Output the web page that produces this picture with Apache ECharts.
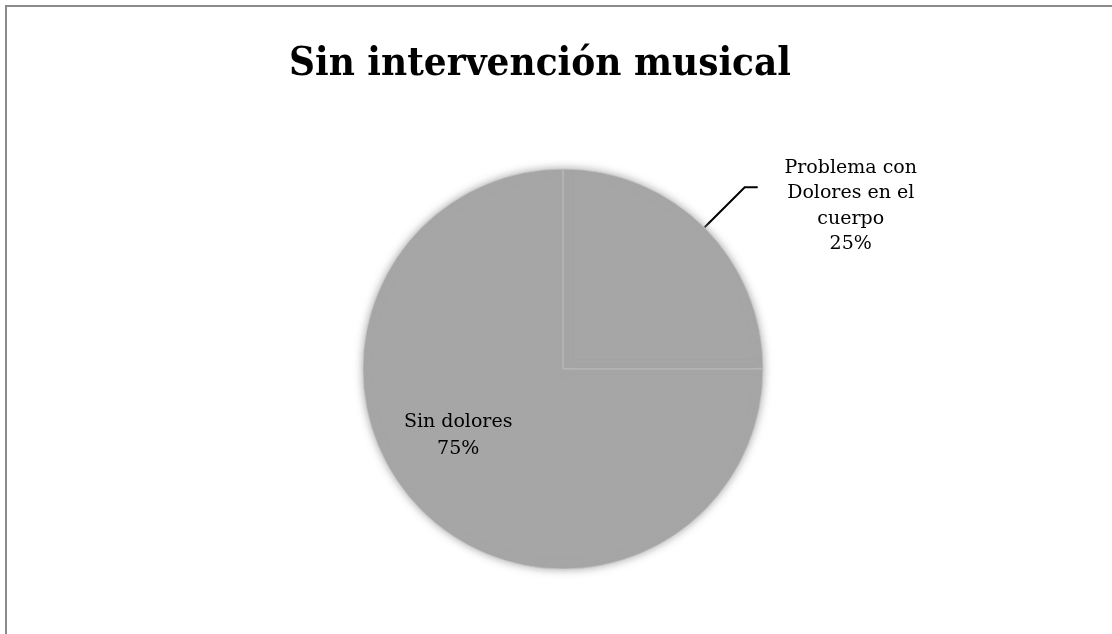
<!DOCTYPE html>
<html>
<head>
<meta charset="utf-8">
<script src="https://cdn.jsdelivr.net/npm/echarts@6/dist/echarts.min.js"></script>
<style>
  html, body { margin: 0; padding: 0; background: #ffffff; }
  #frame { position: absolute; left: 5px; top: 5px; width: 1200px; height: 700px;
           border-left: 2px solid #8a8a8a; border-top: 2px solid #8a8a8a; }
  #chart { position: absolute; left: 0; top: 0; width: 1112px; height: 634px; }
</style>
</head>
<body>
<div id="frame"></div>
<div id="chart"></div>
<script>
const titleText = 'Sin intervención musical';
const categories = ['Problema con\nDolores en el\ncuerpo', 'Sin dolores'];
const values = [25, 75];
const sliceColors = ['#a6a6a6', '#a6a6a6'];

const chart = echarts.init(document.getElementById('chart'), null, { renderer: 'canvas' });

const data = categories.map((name, i) => ({
  name: name,
  value: values[i],
  itemStyle: { color: sliceColors[i] }
}));

data[0].label = {
  show: true,
  position: 'outside',
  formatter: function (p) {
    return p.name.split('\n').map(s => '{c|' + s + '}').join('\n') + '\n{c|' + p.percent + '%}';
  },
  padding: [38, 0, 0, 0],
  rich: {
    c: { width: 176, align: 'center', fontFamily: 'DejaVu Serif', fontSize: 19, lineHeight: 25.5, color: '#000' }
  }
};
data[0].labelLine = { show: true, length: 57, length2: 13, lineStyle: { color: '#000', width: 2 } };

data[1].label = {
  show: true,
  position: 'inside',
  offset: [-32, -6],
  formatter: function (p) { return p.name + '\n' + p.percent + '%'; },
  fontFamily: 'DejaVu Serif', fontSize: 19, lineHeight: 27, color: '#000', align: 'center'
};

chart.setOption({
  backgroundColor: 'transparent',
  animation: false,
  title: {
    text: titleText,
    left: 535, top: 40, textAlign: 'center',
    textStyle: { fontFamily: 'DejaVu Serif Condensed', fontWeight: 'bold', fontSize: 40, color: '#000' }
  },
  series: [{
    type: 'pie',
    center: [563, 369],
    radius: 200,
    startAngle: 90,
    clockwise: true,
    avoidLabelOverlap: false,
    itemStyle: { borderColor: 'rgba(200,200,200,0.7)', borderWidth: 1, shadowBlur: 8, shadowColor: 'rgba(166,166,166,1)' },
    emphasis: { disabled: true },
    data: data
  }]
});
</script>
</body>
</html>
